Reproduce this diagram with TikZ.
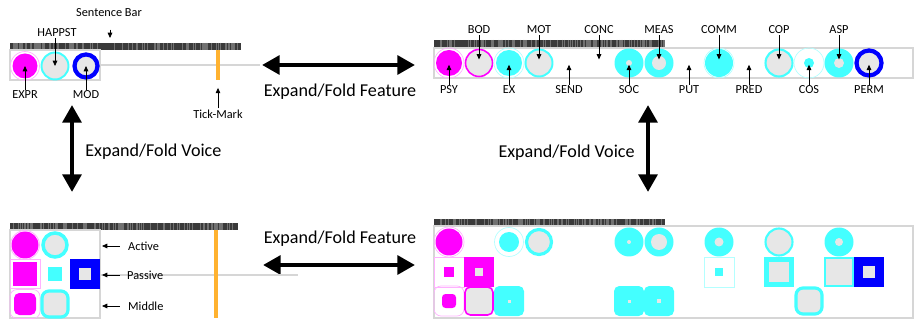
\documentclass[tikz,border=0pt]{standalone}
\usepackage{fontspec}
\setmainfont{Carlito}
\usetikzlibrary{arrows.meta}

\definecolor{vmag}{RGB}{255,0,255}
\definecolor{vcyan}{RGB}{68,255,255}
\definecolor{vblue}{RGB}{0,0,255}
\definecolor{vgray}{RGB}{231,231,231}
\definecolor{vbar}{RGB}{58,58,58}
\definecolor{vtick}{RGB}{255,178,48}
\definecolor{vline}{RGB}{214,214,214}

\tikzset{
  lbl/.style={font=\fontsize{7}{8}\selectfont, inner sep=0.5pt},
  bigtxt/.style={font=\fontsize{10.3}{12}\selectfont, inner sep=0pt},
  ptr/.style={-{Triangle[length=3pt,width=2.6pt]}, line width=0.45pt},
  fold/.style={{Triangle[length=10pt,width=10.5pt]}-{Triangle[length=10pt,width=10.5pt]}, line width=2.6pt},
  frame/.style={draw=vline, line width=0.6pt},
  track/.style={draw=vline, line width=0.6pt},
  tickmark/.style={draw=vtick, line width=1.8pt},
  faintm/.style={draw=vmag!30, line width=0.4pt},
  faintc/.style={draw=vcyan!40, line width=0.4pt},
  rnd/.style={rounded corners=3pt},
}

% sentence bar: x1 y1 x2 y2
\newcommand\sentbar[4]{%
  \fill[vbar] (#1,#2) rectangle (#3,#4);
  \foreach \k in {1,...,110}{
    \pgfmathsetmacro\sx{#1+1+rnd*(#3-#1-2)}
    \draw[white!28!vbar, line width=0.3pt] (\sx,#2) -- (\sx,#4);
  }}

\begin{document}
\begin{tikzpicture}[x=0.02cm, y=-0.02cm]
  \useasboundingbox (0,0) rectangle (915,320);
  \pgfmathsetseed{17}

  % ---- top left: folded sentence
  \sentbar{10}{43}{241}{50}
  \draw[frame] (10,50) rectangle (100,80);
  \draw[track] (100,65) -- (260,65);
  \draw[tickmark] (218,50) -- (218,80);
  \coordinate (expr) at (25,66);
  \coordinate (happst) at (55,66);
  \coordinate (mod) at (86,66);
  \coordinate (tick) at (218,80);
  \fill[vmag] (expr) circle[radius=12.5];
  \draw[faintm] (expr) circle[radius=14.5];
  \filldraw[fill=vgray, draw=vcyan, line width=1.1pt] (happst) circle[radius=13.5];
  \filldraw[fill=vgray, draw=vblue, line width=2.4pt] (mod) circle[radius=11.5];

  \node[lbl] (sbl) at (109,13) {Sentence Bar};
  \coordinate (sbhead) at (110,38);
  \draw[ptr] ([yshift=-6.5pt]sbl.south -| sbhead) -- (sbhead);
  \node[lbl] (happstl) at (57,33) {HAPPST};
  \draw[ptr] (happstl.south -| happst) -- (happst);
  \node[lbl] (exprl) at (25,95) {EXPR};
  \draw[ptr] (exprl.north) -- (expr);
  \node[lbl] (modl) at (86,95) {MOD};
  \draw[ptr] (modl.north) -- (mod);
  \node[lbl] (tickl) at (218,114) {Tick-Mark};
  \draw[ptr] (tickl.north) -- ([yshift=-4.5pt]tick);

  % ---- fold arrows
  \coordinate (ft1) at (262,65);
  \coordinate (ft2) at (415,65);
  \draw[fold] (ft1) -- (ft2);
  \node[bigtxt] (featt) at (340,92) {Expand/Fold Feature};
  \coordinate (fb1) at (263,265);
  \coordinate (fb2) at (415,265);
  \draw[fold] (fb1) -- (fb2);
  \node[bigtxt] (featb) at (340,239) {Expand/Fold Feature};
  \coordinate (vl1) at (72,105);
  \coordinate (vl2) at (72,192);
  \draw[fold] (vl1) -- (vl2);
  \node[bigtxt, anchor=west] (voicel) at (85,152) {Expand/Fold Voice};
  \coordinate (vr1) at (648,105);
  \coordinate (vr2) at (648,192);
  \draw[fold] (vr1) -- (vr2);
  \node[bigtxt, anchor=east] (voicer) at (635,153) {Expand/Fold Voice};

  % ---- top right: expanded features
  \sentbar{434}{40}{665}{48}
  \draw[frame] (434,48) rectangle (913,78);
  \foreach \n/\x in {psy/449, bod/479, ex/509, mot/539, send/569, conc/599,
    soc/629, meas/659, put/689, comm/719, pred/749, cop/779, cos/809,
    asp/839, perm/869}{
    \coordinate (\n) at (\x,63);
    \coordinate (\n1) at (\x,242);
    \coordinate (\n2) at (\x,272);
    \coordinate (\n3) at (\x,301);
  }
  \fill[vmag] (psy) circle[radius=13];
  \draw[faintm] (psy) circle[radius=15];
  \filldraw[fill=vgray, draw=vmag, line width=0.9pt] (bod) circle[radius=13.5];
  \fill[vcyan] (ex) circle[radius=13];
  \draw[faintc] (ex) circle[radius=15];
  \filldraw[fill=vgray, draw=vcyan, line width=1.1pt] (mot) circle[radius=13.5];
  \fill[vcyan] (soc) circle[radius=14.5];
  \fill[vgray] (soc) circle[radius=3];
  \fill[vcyan] (meas) circle[radius=14.5];
  \fill[vgray] (meas) circle[radius=7];
  \fill[vcyan] (comm) circle[radius=14];
  \draw[faintc] (comm) circle[radius=15];
  \filldraw[fill=vgray, draw=vcyan, line width=1.2pt] (cop) circle[radius=13.5];
  \fill[vcyan] (cos) circle[radius=5];
  \draw[faintc] (cos) circle[radius=15];
  \fill[vcyan] (asp) circle[radius=14.5];
  \fill[vgray] (asp) circle[radius=5];
  \filldraw[fill=vgray, draw=vblue, line width=2.4pt] (perm) circle[radius=12.5];

  \foreach \n/\t in {bod/BOD, mot/MOT, conc/CONC, meas/MEAS, comm/COMM,
    cop/COP, asp/ASP}{
    \node[lbl] (\n-l) at (\n |- 0,30) {\t};
    \draw[ptr] (\n-l.south) -- ([yshift=2pt]\n);
  }
  \foreach \n/\t in {psy/PSY, ex/EX, send/SEND, soc/SOC, put/PUT,
    pred/PRED, cos/COS, perm/PERM}{
    \node[lbl] (\n-l) at (\n |- 0,90) {\t};
    \draw[ptr] (\n-l.north) -- ([yshift=-1pt]\n);
  }

  % ---- bottom left: expanded voice
  \sentbar{10}{223}{238}{230}
  \draw[frame] (10,230) rectangle (100,318);
  \draw[track] (100,275) -- (298,275);
  \draw[tickmark] (216,230) -- (216,318);
  \coordinate (act1) at (25,245);
  \coordinate (act2) at (55,245);
  \coordinate (pas1) at (25,274);
  \coordinate (pas2) at (55,274);
  \coordinate (pas3) at (85,274);
  \coordinate (mid1) at (25,304);
  \coordinate (mid2) at (55,304);
  \fill[vmag] (act1) circle[radius=13.5];
  \draw[faintm] (act1) circle[radius=14.5];
  \filldraw[fill=vgray, draw=vcyan, line width=2pt] (act2) circle[radius=12];
  \draw[faintm] (pas1) ++(-15,-14.5) rectangle ++(30,29);
  \fill[vmag] (pas1) ++(-12,-12) rectangle ++(24,24);
  \fill[vcyan] (pas2) ++(-7,-7) rectangle ++(14,14);
  \fill[vblue] (pas3) ++(-15,-15) rectangle ++(30,30);
  \fill[vgray] (pas3) ++(-6,-6) rectangle ++(12,12);
  \draw[faintm, rounded corners=4pt] (mid1) ++(-15,-14.5) rectangle ++(30,29);
  \fill[vmag, rnd] (mid1) ++(-11,-11) rectangle ++(22,22);
  \filldraw[fill=vgray, draw=vcyan, line width=1.8pt, rounded corners=4pt]
    (mid2) ++(-13,-13) rectangle ++(26,26);

  \node[lbl, anchor=west] (actl) at (127,246) {Active};
  \draw[ptr] ([xshift=-4pt]actl.west) -- (102,246);
  \node[lbl, anchor=west] (pasl) at (126,275) {Passive};
  \draw[ptr] ([xshift=-3.5pt]pasl.west) -- (102,275);
  \node[lbl, anchor=west] (midl) at (127,306) {Middle};
  \draw[ptr] ([xshift=-4pt]midl.west) -- (102,306);

  % ---- bottom right: expanded features and voice
  \sentbar{434}{219}{665}{226}
  \draw[frame] (434,226) rectangle (913,318);
  % active row
  \fill[vmag] (psy1) circle[radius=13.5];
  \draw[faintm] (psy1) circle[radius=15];
  \fill[vcyan] (ex1) circle[radius=10];
  \draw[faintc] (ex1) circle[radius=14.5];
  \filldraw[fill=vgray, draw=vcyan, line width=1.8pt] (mot1) circle[radius=12.5];
  \fill[vcyan] (soc1) circle[radius=14.5];
  \fill[vgray] (soc1) circle[radius=2];
  \fill[vcyan] (meas1) circle[radius=14.5];
  \fill[vgray] (meas1) circle[radius=8];
  \fill[vcyan] (comm1) circle[radius=14.5];
  \fill[vgray] (comm1) circle[radius=4.5];
  \filldraw[fill=vgray, draw=vcyan, line width=1.2pt] (cop1) circle[radius=13.5];
  \fill[vcyan] (asp1) circle[radius=14.5];
  \fill[vgray] (asp1) circle[radius=4];
  % passive row
  \draw[faintm] (psy2) ++(-15,-15) rectangle ++(30,30);
  \fill[vmag] (psy2) ++(-5,-5) rectangle ++(10,10);
  \fill[vmag] (bod2) ++(-15,-15) rectangle ++(30,30);
  \fill[vgray] (bod2) ++(-4,-4) rectangle ++(8,8);
  \draw[faintc] (comm2) ++(-15,-15) rectangle ++(30,30);
  \fill[vcyan] (comm2) ++(-4,-4) rectangle ++(8,8);
  \fill[vcyan] (cop2) ++(-15,-15) rectangle ++(30,30);
  \fill[vgray] (cop2) ++(-10,-10) rectangle ++(20,20);
  \filldraw[fill=vgray, draw=vcyan, line width=0.9pt] (asp2) ++(-14,-14) rectangle ++(28,28);
  \fill[vblue] (perm2) ++(-15,-15) rectangle ++(30,30);
  \fill[vgray] (perm2) ++(-6,-6) rectangle ++(12,12);
  % middle row
  \draw[faintm, rounded corners=4pt] (psy3) ++(-15,-15) rectangle ++(30,30);
  \fill[vmag, rounded corners=2pt] (psy3) ++(-7,-7) rectangle ++(14,14);
  \filldraw[fill=vgray, draw=vmag, line width=0.9pt, rnd] (bod3) ++(-14,-14) rectangle ++(28,28);
  \fill[vcyan, rnd] (ex3) ++(-15,-15) rectangle ++(30,30);
  \fill[vgray] (ex3) ++(-1.5,-1.5) rectangle ++(3,3);
  \fill[vcyan, rnd] (soc3) ++(-15,-15) rectangle ++(30,30);
  \fill[vgray] (soc3) ++(-1.5,-1.5) rectangle ++(3,3);
  \fill[vcyan, rnd] (meas3) ++(-15,-15) rectangle ++(30,30);
  \fill[vgray] (meas3) ++(-2,-2) rectangle ++(4,4);
  \filldraw[fill=vgray, draw=vcyan, line width=1.8pt, rounded corners=4pt]
    (cos3) ++(-13,-13) rectangle ++(26,26);
\end{tikzpicture}
\end{document}
